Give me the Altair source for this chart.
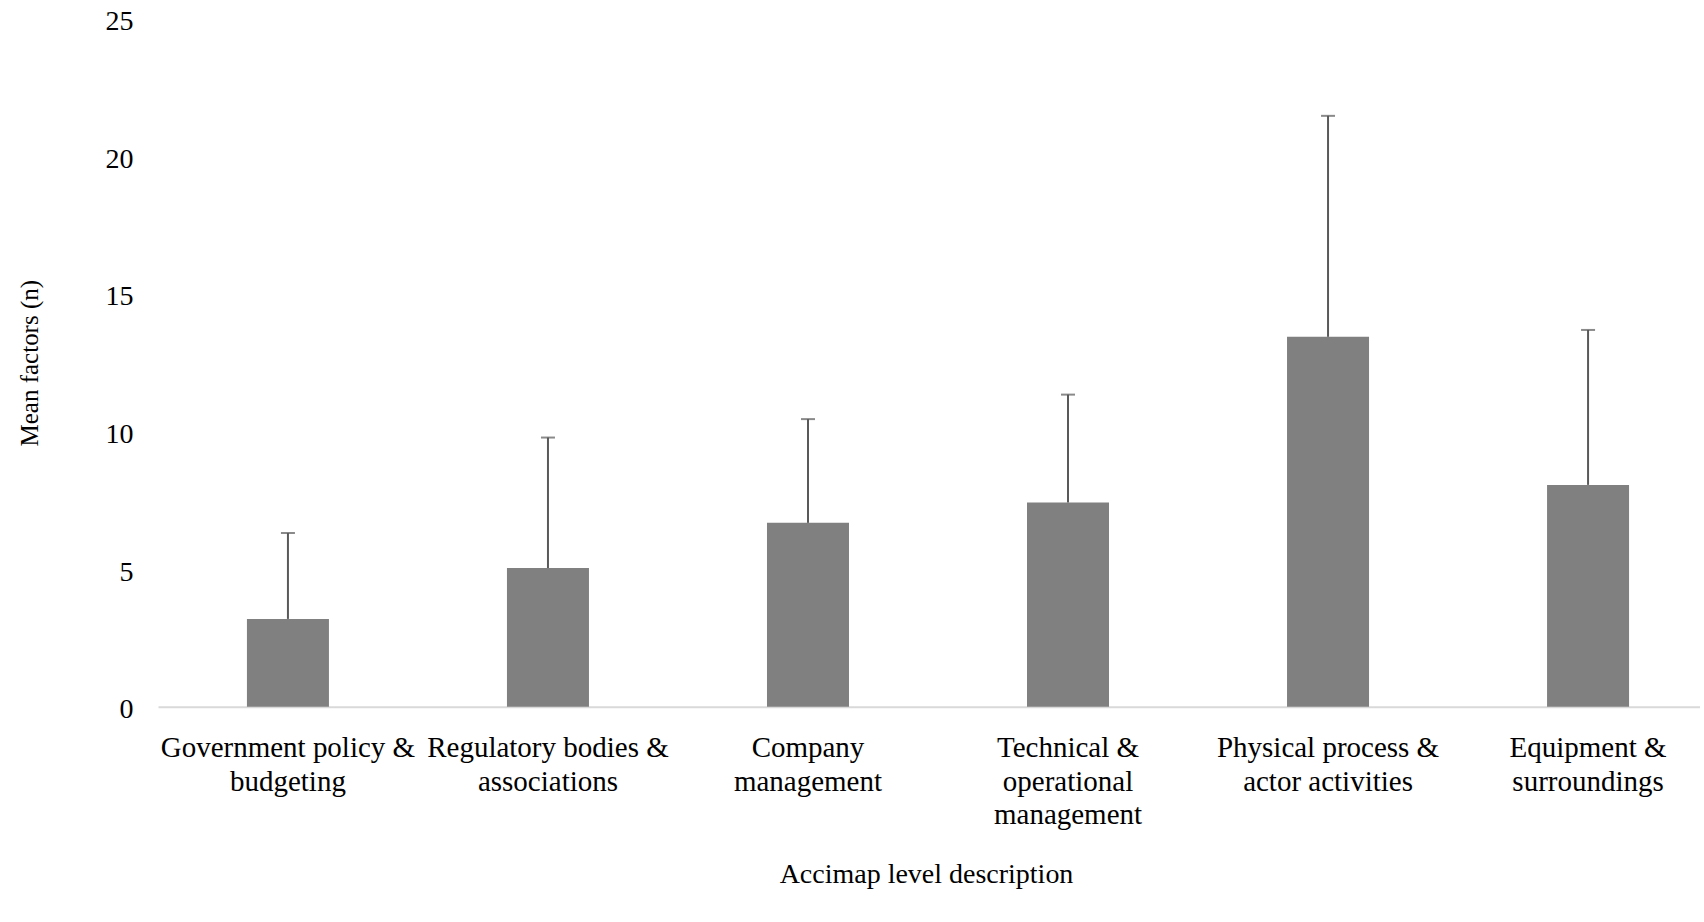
import altair as alt
import pandas as pd

# Accimap levels (line breaks mark where each axis label wraps)
levels = [
    "Government policy &\nbudgeting",
    "Regulatory bodies &\nassociations",
    "Company\nmanagement",
    "Technical &\noperational\nmanagement",
    "Physical process &\nactor activities",
    "Equipment &\nsurroundings",
]
# Mean number of factors per level and the standard deviation above it
mean_factors = [3.19, 5.04, 6.68, 7.42, 13.44, 8.06]
sd_factors = [3.12, 4.74, 3.77, 3.92, 8.03, 5.63]

df = pd.DataFrame({"level": levels, "mean": mean_factors, "sd": sd_factors})
df["upper"] = df["mean"] + df["sd"]

FONT = "Liberation Serif"

x_enc = alt.X(
    "level:N",
    sort=levels,
    scale=alt.Scale(range=[0, 1560], paddingInner=0.6846, paddingOuter=0.342),
    axis=alt.Axis(
        title="Accimap level description",
        labelAngle=0,
        labelExpr="split(datum.value, '\\n')",
        labelFont=FONT,
        labelFontSize=29,
        labelLineHeight=33.5,
        labelColor="black",
        labelPadding=27,
        labelLimit=400,
        ticks=False,
        grid=False,
        domainColor="#d9d9d9",
        domainWidth=2,
        titleFont=FONT,
        titleFontSize=28,
        titleFontWeight="normal",
        titleColor="black",
        titleX=768,
        titleY=168,
        titleBaseline="middle",
    ),
)

y_scale = alt.Scale(domain=[0, 25], nice=False)
y_axis = alt.Axis(
    title="Mean factors (n)",
    values=[0, 5, 10, 15, 20, 25],
    grid=False,
    ticks=False,
    domain=False,
    labelFont=FONT,
    labelFontSize=28,
    labelColor="black",
    labelPadding=25,
    labelOffset=3,
    titleFont=FONT,
    titleFontSize=25,
    titleFontWeight="normal",
    titleColor="black",
    titleX=-129,
    titleY=344,
    titleBaseline="middle",
)

bars = alt.Chart(df).mark_bar(color="#808080").encode(
    x=x_enc,
    y=alt.Y("mean:Q", scale=y_scale, axis=y_axis),
)

err_line = alt.Chart(df).mark_rule(color="#595959", strokeWidth=2).encode(
    x=alt.X("level:N", sort=levels),
    y=alt.Y("mean:Q"),
    y2=alt.Y2("upper:Q"),
)

err_cap = alt.Chart(df).mark_tick(
    color="#595959", orient="horizontal", size=14, thickness=2
).encode(
    x=alt.X("level:N", sort=levels),
    y=alt.Y("upper:Q"),
)

chart = (
    alt.layer(bars, err_line, err_cap)
    .properties(
        width=1542,
        height=688,
        autosize=alt.AutoSizeParams(type="none"),
        padding={"left": 158, "top": 18.7, "right": 0, "bottom": 205},
        view=alt.ViewBackground(stroke="transparent", strokeWidth=0),
    )
    .configure_view(stroke="transparent", strokeWidth=0)
    .configure(background="white")
)

chart.save("out.html", embed_options={"renderer": "svg", "actions": False})
